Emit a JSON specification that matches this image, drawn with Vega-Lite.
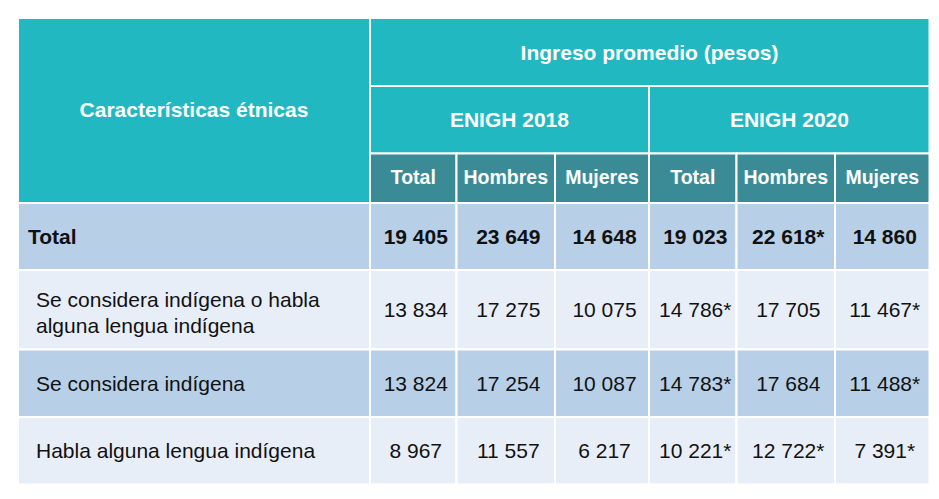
{
  "$schema": "https://vega.github.io/schema/vega-lite/v6.json",
  "width": 939,
  "height": 499,
  "padding": 0,
  "autosize": {"type": "fit", "contains": "padding"},
  "background": "white",
  "config": {"view": {"stroke": null}, "text": {"font": "Liberation Sans"}},
  "data": {
    "values": [
      {"r0": 0, "r1": 3, "c0": 0, "c1": 1, "kind": "encabezado", "role": "corner", "label": "Características étnicas"},
      {"r0": 0, "r1": 1, "c0": 1, "c1": 7, "kind": "encabezado", "role": "header", "label": "Ingreso promedio (pesos)"},
      {"r0": 1, "r1": 2, "c0": 1, "c1": 4, "kind": "encabezado", "role": "survey", "label": "ENIGH 2018"},
      {"r0": 1, "r1": 2, "c0": 4, "c1": 7, "kind": "encabezado", "role": "survey", "label": "ENIGH 2020"},
      {"r0": 2, "r1": 3, "c0": 1, "c1": 2, "kind": "subencabezado", "role": "sub", "label": "Total"},
      {"r0": 2, "r1": 3, "c0": 2, "c1": 3, "kind": "subencabezado", "role": "sub", "label": "Hombres"},
      {"r0": 2, "r1": 3, "c0": 3, "c1": 4, "kind": "subencabezado", "role": "sub", "label": "Mujeres"},
      {"r0": 2, "r1": 3, "c0": 4, "c1": 5, "kind": "subencabezado", "role": "sub", "label": "Total"},
      {"r0": 2, "r1": 3, "c0": 5, "c1": 6, "kind": "subencabezado", "role": "sub", "label": "Hombres"},
      {"r0": 2, "r1": 3, "c0": 6, "c1": 7, "kind": "subencabezado", "role": "sub", "label": "Mujeres"},

      {"r0": 3, "r1": 4, "c0": 0, "c1": 1, "kind": "fila impar", "role": "totallabel", "label": "Total"},
      {"r0": 3, "r1": 4, "c0": 1, "c1": 2, "kind": "fila impar", "role": "totalvalue", "label": "19 405"},
      {"r0": 3, "r1": 4, "c0": 2, "c1": 3, "kind": "fila impar", "role": "totalvalue", "label": "23 649"},
      {"r0": 3, "r1": 4, "c0": 3, "c1": 4, "kind": "fila impar", "role": "totalvalue", "label": "14 648"},
      {"r0": 3, "r1": 4, "c0": 4, "c1": 5, "kind": "fila impar", "role": "totalvalue", "label": "19 023"},
      {"r0": 3, "r1": 4, "c0": 5, "c1": 6, "kind": "fila impar", "role": "totalvalue", "label": "22 618*"},
      {"r0": 3, "r1": 4, "c0": 6, "c1": 7, "kind": "fila impar", "role": "totalvalue", "label": "14 860"},

      {"r0": 4, "r1": 5, "c0": 0, "c1": 1, "kind": "fila par", "role": "rowlabel2", "label": ["Se considera indígena o habla", "alguna lengua indígena"]},
      {"r0": 4, "r1": 5, "c0": 1, "c1": 2, "kind": "fila par", "role": "value", "label": "13 834"},
      {"r0": 4, "r1": 5, "c0": 2, "c1": 3, "kind": "fila par", "role": "value", "label": "17 275"},
      {"r0": 4, "r1": 5, "c0": 3, "c1": 4, "kind": "fila par", "role": "value", "label": "10 075"},
      {"r0": 4, "r1": 5, "c0": 4, "c1": 5, "kind": "fila par", "role": "value", "label": "14 786*"},
      {"r0": 4, "r1": 5, "c0": 5, "c1": 6, "kind": "fila par", "role": "value", "label": "17 705"},
      {"r0": 4, "r1": 5, "c0": 6, "c1": 7, "kind": "fila par", "role": "value", "label": "11 467*"},

      {"r0": 5, "r1": 6, "c0": 0, "c1": 1, "kind": "fila impar", "role": "rowlabel", "label": "Se considera indígena"},
      {"r0": 5, "r1": 6, "c0": 1, "c1": 2, "kind": "fila impar", "role": "value", "label": "13 824"},
      {"r0": 5, "r1": 6, "c0": 2, "c1": 3, "kind": "fila impar", "role": "value", "label": "17 254"},
      {"r0": 5, "r1": 6, "c0": 3, "c1": 4, "kind": "fila impar", "role": "value", "label": "10 087"},
      {"r0": 5, "r1": 6, "c0": 4, "c1": 5, "kind": "fila impar", "role": "value", "label": "14 783*"},
      {"r0": 5, "r1": 6, "c0": 5, "c1": 6, "kind": "fila impar", "role": "value", "label": "17 684"},
      {"r0": 5, "r1": 6, "c0": 6, "c1": 7, "kind": "fila impar", "role": "value", "label": "11 488*"},

      {"r0": 6, "r1": 7, "c0": 0, "c1": 1, "kind": "fila par", "role": "rowlabel", "label": "Habla alguna lengua indígena"},
      {"r0": 6, "r1": 7, "c0": 1, "c1": 2, "kind": "fila par", "role": "value", "label": "8 967"},
      {"r0": 6, "r1": 7, "c0": 2, "c1": 3, "kind": "fila par", "role": "value", "label": "11 557"},
      {"r0": 6, "r1": 7, "c0": 3, "c1": 4, "kind": "fila par", "role": "value", "label": "6 217"},
      {"r0": 6, "r1": 7, "c0": 4, "c1": 5, "kind": "fila par", "role": "value", "label": "10 221*"},
      {"r0": 6, "r1": 7, "c0": 5, "c1": 6, "kind": "fila par", "role": "value", "label": "12 722*"},
      {"r0": 6, "r1": 7, "c0": 6, "c1": 7, "kind": "fila par", "role": "value", "label": "7 391*"}
    ]
  },
  "transform": [
    {"calculate": "(datum.c0 + datum.c1) / 2", "as": "xm"},
    {"calculate": "(datum.r0 + datum.r1) / 2", "as": "ym"}
  ],
  "layer": [
    {
      "mark": {"type": "rect", "stroke": "white", "strokeWidth": 2},
      "encoding": {
        "x": {"field": "c0", "type": "quantitative", "axis": null,
              "scale": {"domain": [0, 1, 2, 3, 4, 5, 6, 7], "range": [18, 370, 456.5, 555, 649, 736.5, 835, 929.5], "nice": false, "zero": false}},
        "x2": {"field": "c1"},
        "y": {"field": "r0", "type": "quantitative", "axis": null,
              "scale": {"domain": [0, 1, 2, 3, 4, 5, 6, 7], "range": [18, 86, 153.5, 203, 270, 349.5, 417, 484.5], "nice": false, "zero": false}},
        "y2": {"field": "r1"},
        "fill": {"field": "kind", "type": "nominal", "legend": null,
                 "scale": {"domain": ["encabezado", "subencabezado", "fila impar", "fila par"], "range": ["#22B8C1", "#3A8B96", "#B7D0E8", "#E8EEF8"]}}
      }
    },
    {
      "transform": [{"filter": "datum.role === 'corner'"}],
      "mark": {"type": "text", "fontSize": 21, "fontWeight": "bold", "color": "white", "baseline": "middle", "align": "center", "dy": -8.5},
      "encoding": {
        "x": {"field": "xm", "type": "quantitative", "axis": null},
        "y": {"field": "ym", "type": "quantitative", "axis": null},
        "text": {"field": "label"}
      }
    },
    {
      "transform": [{"filter": "datum.role === 'header'"}],
      "mark": {"type": "text", "fontSize": 21, "fontWeight": "bold", "color": "white", "baseline": "middle", "align": "center", "dx": 0.5, "dy": 2},
      "encoding": {
        "x": {"field": "xm", "type": "quantitative", "axis": null},
        "y": {"field": "ym", "type": "quantitative", "axis": null},
        "text": {"field": "label"}
      }
    },
    {
      "transform": [{"filter": "datum.role === 'survey'"}],
      "mark": {"type": "text", "fontSize": 21, "fontWeight": "bold", "color": "white", "baseline": "middle", "align": "center", "dx": 3.7, "dy": 1.5},
      "encoding": {
        "x": {"field": "xm", "type": "quantitative", "axis": null},
        "y": {"field": "ym", "type": "quantitative", "axis": null},
        "text": {"field": "label"}
      }
    },
    {
      "transform": [{"filter": "datum.role === 'sub'"}],
      "mark": {"type": "text", "fontSize": 19.5, "fontWeight": "bold", "color": "white", "baseline": "middle", "align": "center"},
      "encoding": {
        "x": {"field": "xm", "type": "quantitative", "axis": null},
        "y": {"field": "ym", "type": "quantitative", "axis": null},
        "text": {"field": "label"}
      }
    },
    {
      "transform": [{"filter": "datum.role === 'totalvalue'"}],
      "mark": {"type": "text", "fontSize": 21, "fontWeight": "bold", "color": "#111111", "baseline": "middle", "align": "center", "dx": 2.5, "dy": 1.5},
      "encoding": {
        "x": {"field": "xm", "type": "quantitative", "axis": null},
        "y": {"field": "ym", "type": "quantitative", "axis": null},
        "text": {"field": "label"}
      }
    },
    {
      "transform": [{"filter": "datum.role === 'value'"}],
      "mark": {"type": "text", "fontSize": 21, "color": "#111111", "baseline": "middle", "align": "center", "dx": 2.5, "dy": 1.5},
      "encoding": {
        "x": {"field": "xm", "type": "quantitative", "axis": null},
        "y": {"field": "ym", "type": "quantitative", "axis": null},
        "text": {"field": "label"}
      }
    },
    {
      "transform": [{"filter": "datum.role === 'totallabel'"}],
      "mark": {"type": "text", "fontSize": 21, "fontWeight": "bold", "color": "#111111", "baseline": "middle", "align": "left", "dx": 10, "dy": 1.5},
      "encoding": {
        "x": {"field": "c0", "type": "quantitative", "axis": null},
        "y": {"field": "ym", "type": "quantitative", "axis": null},
        "text": {"field": "label"}
      }
    },
    {
      "transform": [{"filter": "datum.role === 'rowlabel'"}],
      "mark": {"type": "text", "fontSize": 21, "color": "#111111", "baseline": "middle", "align": "left", "dx": 18, "dy": 1.5},
      "encoding": {
        "x": {"field": "c0", "type": "quantitative", "axis": null},
        "y": {"field": "ym", "type": "quantitative", "axis": null},
        "text": {"field": "label"}
      }
    },
    {
      "transform": [{"filter": "datum.role === 'rowlabel2'"}],
      "mark": {"type": "text", "fontSize": 21, "color": "#111111", "baseline": "middle", "align": "left", "dx": 18, "dy": -9, "lineHeight": 26.5},
      "encoding": {
        "x": {"field": "c0", "type": "quantitative", "axis": null},
        "y": {"field": "ym", "type": "quantitative", "axis": null},
        "text": {"field": "label"}
      }
    }
  ]
}
